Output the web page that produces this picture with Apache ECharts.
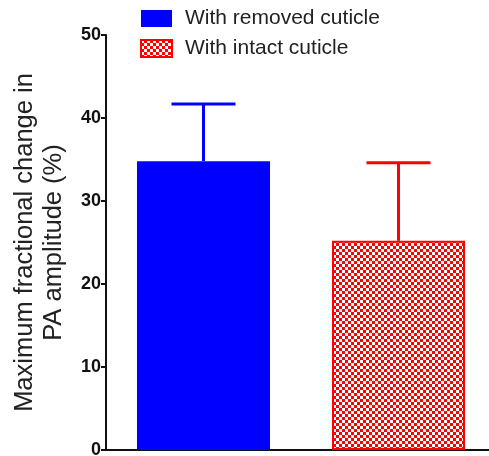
<!DOCTYPE html>
<html>
<head>
<meta charset="utf-8">
<script src="https://cdn.jsdelivr.net/npm/echarts@6/dist/echarts.min.js"></script>
<style>
  html, body { margin: 0; padding: 0; background: #fff; }
  #chart { width: 489px; height: 456px; }
</style>
</head>
<body>
<div id="chart"></div>
<script>
// Groups and their mean values with the upper error (mean + SD)
const categories = ['With removed cuticle', 'With intact cuticle'];
const means = [34.8, 25.2];
const errorTops = [41.7, 34.6];
const yTicks = [0, 10, 20, 30, 40, 50];

// Red checkerboard fill used by the intact-cuticle bar
function makeChecker() {
  const c = document.createElement('canvas');
  c.width = 6; c.height = 6;
  const g = c.getContext('2d');
  g.fillStyle = '#ff0000';
  g.fillRect(0, 0, 6, 6);
  g.fillStyle = '#ffffff';
  g.fillRect(0, 0, 3, 3);
  g.fillRect(3, 3, 3, 3);
  return c;
}
const checker = { image: makeChecker(), repeat: 'repeat' };

const chart = echarts.init(document.getElementById('chart'), null, { renderer: 'canvas' });

const blueData = [means[0], '-'];
const redData = ['-', means[1]];

chart.setOption({
  animation: false,
  textStyle: { fontFamily: 'Liberation Sans, Arial, sans-serif' },
  legend: {
    orient: 'vertical',
    left: 140,
    top: 8,
    padding: 0,
    icon: 'rect',
    itemWidth: 31,
    itemHeight: 17,
    itemGap: 9,
    textStyle: { fontSize: 21, color: '#222', padding: [0, 0, 0, 8] },
    data: [categories[0], categories[1]]
  },
  grid: {
    left: 106, width: 390, top: 35, bottom: 6,
    containLabel: false, outerBoundsMode: 'none'
  },
  xAxis: {
    type: 'category',
    data: categories,
    axisLine: { lineStyle: { color: '#111', width: 2 } },
    axisTick: { show: false },
    axisLabel: { show: false }
  },
  yAxis: {
    type: 'value',
    min: yTicks[0],
    max: yTicks[yTicks.length - 1],
    interval: 10,
    name: 'Maximum fractional change in\nPA amplitude (%)',
    nameLocation: 'middle',
    nameRotate: 90,
    nameGap: 38,
    nameTextStyle: { fontSize: 25.5, color: '#222', lineHeight: 29 },
    axisLine: { show: true, lineStyle: { color: '#111', width: 2 } },
    axisTick: { show: true, length: 5, lineStyle: { color: '#111', width: 2 } },
    axisLabel: { fontSize: 18, fontWeight: 'bold', color: '#111', margin: 5 },
    splitLine: { show: false }
  },
  series: [
    {
      name: categories[0],
      type: 'bar',
      stack: 'g',
      barWidth: 133,
      data: blueData,
      itemStyle: { color: '#0000ff' }
    },
    {
      name: categories[1],
      type: 'bar',
      stack: 'g',
      barWidth: 133,
      data: redData,
      itemStyle: { color: checker, borderColor: '#ff0000', borderWidth: 2 }
    },
    {
      type: 'custom',
      name: 'error',
      silent: true,
      z: 1,
      data: means.map((m, i) => [i, m, errorTops[i]]),
      renderItem: function (params, api) {
        const i = api.value(0);
        const base = api.coord([i, api.value(1)]);
        const top = api.coord([i, api.value(2)]);
        const color = i === 0 ? '#0000ff' : '#ff0000';
        const half = 32;
        const style = { stroke: color, lineWidth: 3 };
        return {
          type: 'group',
          children: [
            { type: 'line', shape: { x1: base[0], y1: base[1], x2: top[0], y2: top[1] }, style: style },
            { type: 'line', shape: { x1: top[0] - half, y1: top[1], x2: top[0] + half, y2: top[1] }, style: style }
          ]
        };
      }
    }
  ]
});
</script>
</body>
</html>
